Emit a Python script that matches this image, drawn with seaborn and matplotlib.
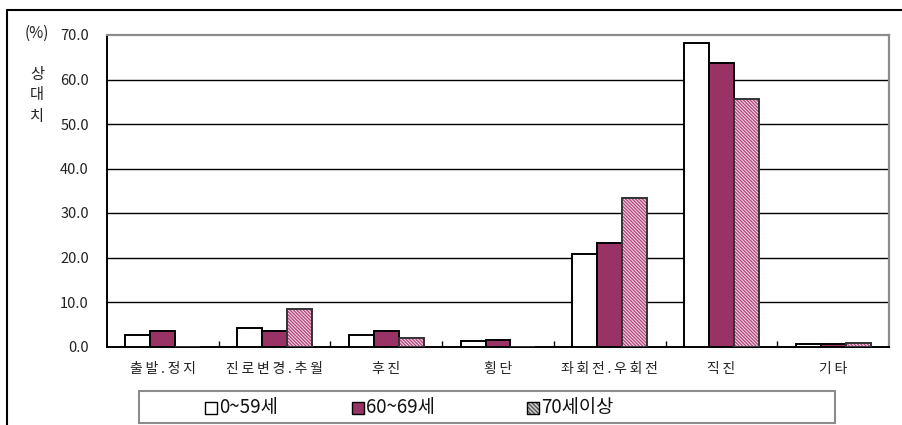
import matplotlib
matplotlib.use("Agg")
import matplotlib.pyplot as plt
from matplotlib.patches import Rectangle
from matplotlib.lines import Line2D
from matplotlib.ticker import FixedLocator
import seaborn as sns
import pandas as pd

# 사고 유형별 연령대 상대치 (%)
categories = ["출발.정지", "진로변경.추월", "후진", "횡단", "좌회전.우회전", "직진", "기타"]
age_groups = ["0~59세", "60~69세", "70세이상"]
under_60 = [2.6, 4.1, 2.6, 1.2, 20.8, 68.1, 0.6]
age_60s = [3.5, 3.5, 3.5, 1.5, 23.2, 63.8, 0.5]
over_70 = [0.0, 8.4, 2.0, 0.0, 33.3, 55.7, 0.85]
y_ticks = [0, 10, 20, 30, 40, 50, 60, 70]

series = [under_60, age_60s, over_70]
df = pd.DataFrame({
    "category": [c for _ in age_groups for c in categories],
    "age": [g for g in age_groups for _ in categories],
    "value": [v for s in series for v in s],
})

KFONT = ["Noto Sans CJK KR", "DejaVu Sans"]
sns.set_theme(style="white")
plt.rcParams["font.family"] = KFONT
plt.rcParams["hatch.linewidth"] = 1.0

W, H = 902, 425
fig = plt.figure(figsize=(W / 100, H / 100), dpi=100)
ax = fig.add_axes([107 / W, 1 - 346.5 / H, (889 - 107) / W, (346.5 - 35) / H])

maroon = "#993366"
pink = "#f8dcea"
sns.barplot(data=df, x="category", y="value", hue="age", order=categories,
            hue_order=age_groups, palette=["white", maroon, pink],
            saturation=1, width=0.67, gap=0, edgecolor="black", linewidth=1.4,
            legend=False, ax=ax, zorder=3)
for bar in ax.containers[2]:
    bar.set_edgecolor("#333333")
    bar.set_hatch("\\" * 10)
    bar._hatch_color = matplotlib.colors.to_rgba("#b24d80")


def spaced(text):
    # 글자 사이를 조금 띄운다
    return "\u2009".join(text)


ax.set_xlim(-0.5, len(categories) - 0.5)
ax.set_ylim(0, 70)
ax.set_yticks(y_ticks)
ax.set_yticklabels([f"{t:.1f}" for t in y_ticks])
ax.set_xticks(range(len(categories)))
ax.set_xticklabels([spaced(c) for c in categories])
ax.tick_params(axis="y", length=0, pad=13, labelsize=10.5, labelcolor="#222222")
ax.tick_params(axis="x", which="major", length=0, pad=11, labelsize=10,
               labelcolor="#222222")
ax.xaxis.set_minor_locator(FixedLocator([i + 0.5 for i in range(len(categories) - 1)]))
ax.tick_params(axis="x", which="minor", direction="in", length=4, width=1,
               color="black", bottom=True)
ax.set_xlabel("")
ax.set_ylabel("")

for t in y_ticks[1:-1]:
    ax.axhline(t, color="black", lw=1.0, zorder=1)
ax.grid(False)
for side in ("left", "bottom"):
    ax.spines[side].set_color("black")
    ax.spines[side].set_linewidth(1.4)
for side in ("top", "right"):
    ax.spines[side].set_color("#8c8c8c")
    ax.spines[side].set_linewidth(1.6)
    ax.spines[side].set_visible(True)

# 단위 및 세로 축 제목
fig.text(37 / W, 1 - 33 / H, "(%)", ha="center", va="center", fontsize=11,
         color="#222222", family=KFONT)
for i, ch in enumerate("상대치"):
    fig.text(37 / W, 1 - (74 + i * 21) / H, ch, ha="center", va="center",
             fontsize=11, color="#222222", family=KFONT)

# 바깥 테두리
fig.add_artist(Line2D([7 / W, 1], [1 - 10 / H, 1 - 10 / H], color="black",
                      lw=1.5, transform=fig.transFigure))
fig.add_artist(Line2D([7 / W, 7 / W], [1 - 10 / H, 0], color="black",
                      lw=1.5, transform=fig.transFigure))

# 범례
fig.add_artist(Rectangle((139 / W, 1 - 423 / H), (835 - 139) / W, 32 / H,
                         transform=fig.transFigure, fill=False,
                         edgecolor="#8c8c8c", lw=1.5))
legend_x = [205, 352, 527]
faces = ["white", maroon, pink]
for i, (x, g) in enumerate(zip(legend_x, age_groups)):
    sq = Rectangle((x / W, 1 - 414 / H), 12 / W, 12 / H, transform=fig.transFigure,
                   facecolor=faces[i], edgecolor="black", lw=1.0)
    if i == 2:
        sq.set_facecolor("#d0d0d0")
        sq.set_hatch("\\" * 8)
        sq._hatch_color = matplotlib.colors.to_rgba("#555555")
    fig.add_artist(sq)
    fig.text((x + 14) / W, 1 - 408 / H, g, ha="left", va="center",
             fontsize=13.5, color="#111111", family=KFONT)

fig.savefig("out.png", dpi=100)
